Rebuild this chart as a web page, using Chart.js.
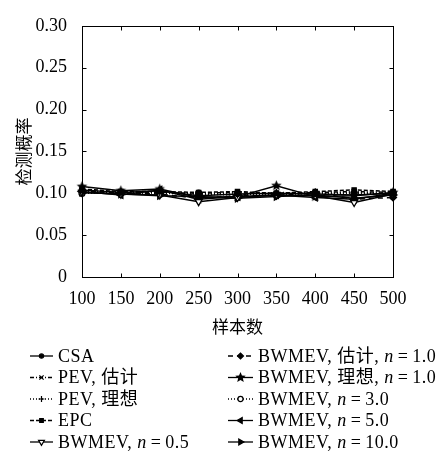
<!DOCTYPE html>
<html><head><meta charset="utf-8">
<script src="https://cdn.jsdelivr.net/npm/chart.js@4/dist/chart.umd.min.js"></script>
<style>html,body{margin:0;padding:0;background:#fff;}</style>
</head><body>
<canvas id="c" width="448" height="464"></canvas>
<script>
const sampleSizes = [100, 150, 200, 250, 300, 350, 400, 450, 500];
const yTickValues = [0, 0.05, 0.10, 0.15, 0.20, 0.25, 0.30];
const seriesNames = ["CSA", "PEV, 估计", "PEV, 理想", "EPC", "BWMEV, n=0.5",
  "BWMEV, 估计, n=1.0", "BWMEV, 理想, n=1.0", "BWMEV, n=3.0", "BWMEV, n=5.0", "BWMEV, n=10.0"];
const csa        = [0.104, 0.101, 0.103, 0.097, 0.099, 0.100, 0.099, 0.098, 0.100];
const pevEst     = [0.103, 0.100, 0.101, 0.100, 0.101, 0.099, 0.101, 0.102, 0.101];
const pevIdeal   = [0.102, 0.101, 0.100, 0.099, 0.098, 0.101, 0.100, 0.101, 0.100];
const epc        = [0.105, 0.102, 0.102, 0.101, 0.102, 0.100, 0.102, 0.104, 0.102];
const bw05       = [0.101, 0.099, 0.098, 0.090, 0.095, 0.098, 0.097, 0.089, 0.099];
const bw10Est    = [0.103, 0.101, 0.099, 0.094, 0.097, 0.097, 0.101, 0.093, 0.095];
const bw10Ideal  = [0.108, 0.103, 0.105, 0.095, 0.096, 0.109, 0.096, 0.097, 0.101];
const bw30       = [0.100, 0.100, 0.101, 0.100, 0.099, 0.098, 0.100, 0.100, 0.099];
const bw50       = [0.102, 0.098, 0.104, 0.093, 0.096, 0.098, 0.095, 0.093, 0.100];
const bw100      = [0.101, 0.099, 0.097, 0.096, 0.094, 0.096, 0.098, 0.094, 0.098];
const seriesValues = [csa, pevEst, pevIdeal, epc, bw05, bw10Est, bw10Ideal, bw30, bw50, bw100];

const FONT = "'Liberation Serif', 'Noto Sans CJK SC', serif";
const CJK = "'Noto Sans CJK SC', 'Liberation Serif', sans-serif";

// filled five-point star marker
function makeStar(r) {
  const c = document.createElement('canvas');
  const s = Math.ceil(r * 2 + 2);
  c.width = s; c.height = s;
  const g = c.getContext('2d');
  g.fillStyle = '#000';
  g.beginPath();
  for (let i = 0; i < 10; i++) {
    const rr = i % 2 === 0 ? r : r * 0.45;
    const a = -Math.PI / 2 + i * Math.PI / 5;
    const px = s / 2 + rr * Math.cos(a), py = s / 2 + rr * Math.sin(a);
    if (i === 0) g.moveTo(px, py); else g.lineTo(px, py);
  }
  g.closePath(); g.fill();
  return c;
}
const starImg = makeStar(5.5);

const styles = [
  {dash: [], pointStyle: 'circle', radius: 2.5, fill: '#000', rot: 0},
  {dash: [4, 2, 1, 2], pointStyle: 'crossRot', radius: 3.5, fill: '#000', rot: 0},
  {dash: [1, 2], pointStyle: 'cross', radius: 3.5, fill: '#000', rot: 0},
  {dash: [4, 2], pointStyle: 'rect', radius: 3, fill: '#000', rot: 0},
  {dash: [], pointStyle: 'triangle', radius: 4, fill: '#fff', rot: 180},
  {dash: [5, 4], pointStyle: 'rectRot', radius: 3.5, fill: '#000', rot: 0},
  {dash: [], pointStyle: starImg, radius: 5, fill: '#000', rot: 0},
  {dash: [1, 2], pointStyle: 'circle', radius: 3, fill: '#fff', rot: 0},
  {dash: [], pointStyle: 'triangle', radius: 4, fill: '#000', rot: 270},
  {dash: [], pointStyle: 'triangle', radius: 4, fill: '#000', rot: 90}
];

const datasets = seriesValues.map((vals, i) => ({
  label: seriesNames[i],
  data: vals.map((v, j) => ({x: sampleSizes[j], y: v})),
  borderColor: '#000',
  borderWidth: 1.5,
  borderDash: styles[i].dash,
  backgroundColor: styles[i].fill,
  pointStyle: styles[i].pointStyle,
  pointRadius: styles[i].radius,
  pointRotation: styles[i].rot,
  pointBorderColor: '#000',
  pointBackgroundColor: styles[i].fill,
  pointBorderWidth: 1.3,
  tension: 0,
  clip: false
}));

const framePlugin = {
  id: 'frame',
  afterDraw(chart) {
    const {ctx, chartArea: a, scales: {x, y}} = chart;
    ctx.save();
    ctx.strokeStyle = '#000';
    ctx.lineWidth = 1;
    ctx.setLineDash([]);
    const L = Math.round(a.left) + 0.5, R = Math.round(a.right) + 0.5;
    const T = Math.round(a.top) + 0.5, B = Math.round(a.bottom) + 0.5;
    ctx.strokeRect(L, T, R - L, B - T);
    const tl = 4;
    ctx.beginPath();
    sampleSizes.forEach(v => {
      const px = Math.round(x.getPixelForValue(v)) + 0.5;
      ctx.moveTo(px, B); ctx.lineTo(px, B - tl);
      ctx.moveTo(px, T); ctx.lineTo(px, T + tl);
    });
    yTickValues.forEach(v => {
      const py = Math.round(y.getPixelForValue(v)) + 0.5;
      ctx.moveTo(L, py); ctx.lineTo(L + tl, py);
      ctx.moveTo(R, py); ctx.lineTo(R - tl, py);
    });
    ctx.stroke();
    ctx.restore();
  }
};

const LEG = "18px " + FONT;
const LEGI = "italic 18px " + FONT;
function drawLabel(ctx, text, x, y) {
  // italicize the variable n, math-style spacing around '='
  const parts = text.split(/(n=)/);
  let cx = x;
  ctx.letterSpacing = '0.5px';
  parts.forEach(p => {
    if (p === 'n=') {
      ctx.font = LEGI;
      ctx.fillText('n', cx, y); cx += ctx.measureText('n').width + 4;
      ctx.font = LEG;
      ctx.fillText('=', cx, y); cx += ctx.measureText('=').width + 4;
    } else if (p) {
      ctx.font = LEG;
      ctx.fillText(p, cx, y); cx += ctx.measureText(p).width;
    }
  });
  ctx.letterSpacing = '0px';
}

const legendPlugin = {
  id: 'customLegend',
  afterDraw(chart) {
    const ctx = chart.ctx;
    const dsets = chart.data.datasets;
    const cols = [{lx0: 30, lx1: 53, tx: 58}, {lx0: 228, lx1: 253, tx: 258}];
    const rowY = [356, 377.5, 399, 420.5, 442];
    ctx.save();
    dsets.forEach((ds, i) => {
      const col = cols[Math.floor(i / 5)];
      const yy = rowY[i % 5];
      ctx.strokeStyle = '#000';
      ctx.lineWidth = 1.3;
      ctx.setLineDash(ds.borderDash || []);
      ctx.beginPath();
      ctx.moveTo(col.lx0, yy); ctx.lineTo(col.lx1, yy);
      ctx.stroke();
      ctx.setLineDash([]);
      ctx.fillStyle = ds.pointBackgroundColor;
      ctx.strokeStyle = '#000';
      ctx.lineWidth = 1.2;
      Chart.helpers.drawPoint(ctx, {
        pointStyle: ds.pointStyle, rotation: ds.pointRotation,
        radius: ds.pointRadius * 0.85, borderWidth: 1.2
      }, (col.lx0 + col.lx1) / 2, yy);
      ctx.fillStyle = '#000';
      ctx.textBaseline = 'middle';
      ctx.textAlign = 'left';
      drawLabel(ctx, ds.label, col.tx, yy + 1);
    });
    ctx.restore();
  }
};

new Chart(document.getElementById('c'), {
  type: 'line',
  data: {datasets},
  options: {
    responsive: false,
    animation: false,
    devicePixelRatio: 1,
    layout: {padding: {left: 0, top: 19, right: 55, bottom: 127}},
    plugins: {legend: {display: false}, tooltip: {enabled: false}},
    scales: {
      x: {
        type: 'linear', min: 100, max: 500,
        afterBuildTicks: s => { s.ticks = sampleSizes.map(v => ({value: v})); },
        grid: {display: false, drawTicks: false},
        border: {display: false},
        ticks: {font: {family: FONT, size: 18}, color: '#000', padding: 11, maxRotation: 0, autoSkip: false},
        title: {display: true, text: '样本数', font: {family: CJK, size: 17}, color: '#000', padding: 0},
        afterFit: s => { s.height = 60; }
      },
      y: {
        type: 'linear', min: 0, max: 0.3,
        afterBuildTicks: s => { s.ticks = yTickValues.map(v => ({value: v})); },
        grid: {display: false, drawTicks: false},
        border: {display: false},
        ticks: {font: {family: FONT, size: 18}, color: '#000', padding: 15,
          callback: v => v === 0 ? '0' : v.toFixed(2)},
        title: {display: true, text: '检测概率', font: {family: CJK, size: 17}, color: '#000', padding: {top: 13, bottom: 0}},
        afterFit: s => { s.width = 82; }
      }
    }
  },
  plugins: [framePlugin, legendPlugin]
});
</script>
</body></html>
